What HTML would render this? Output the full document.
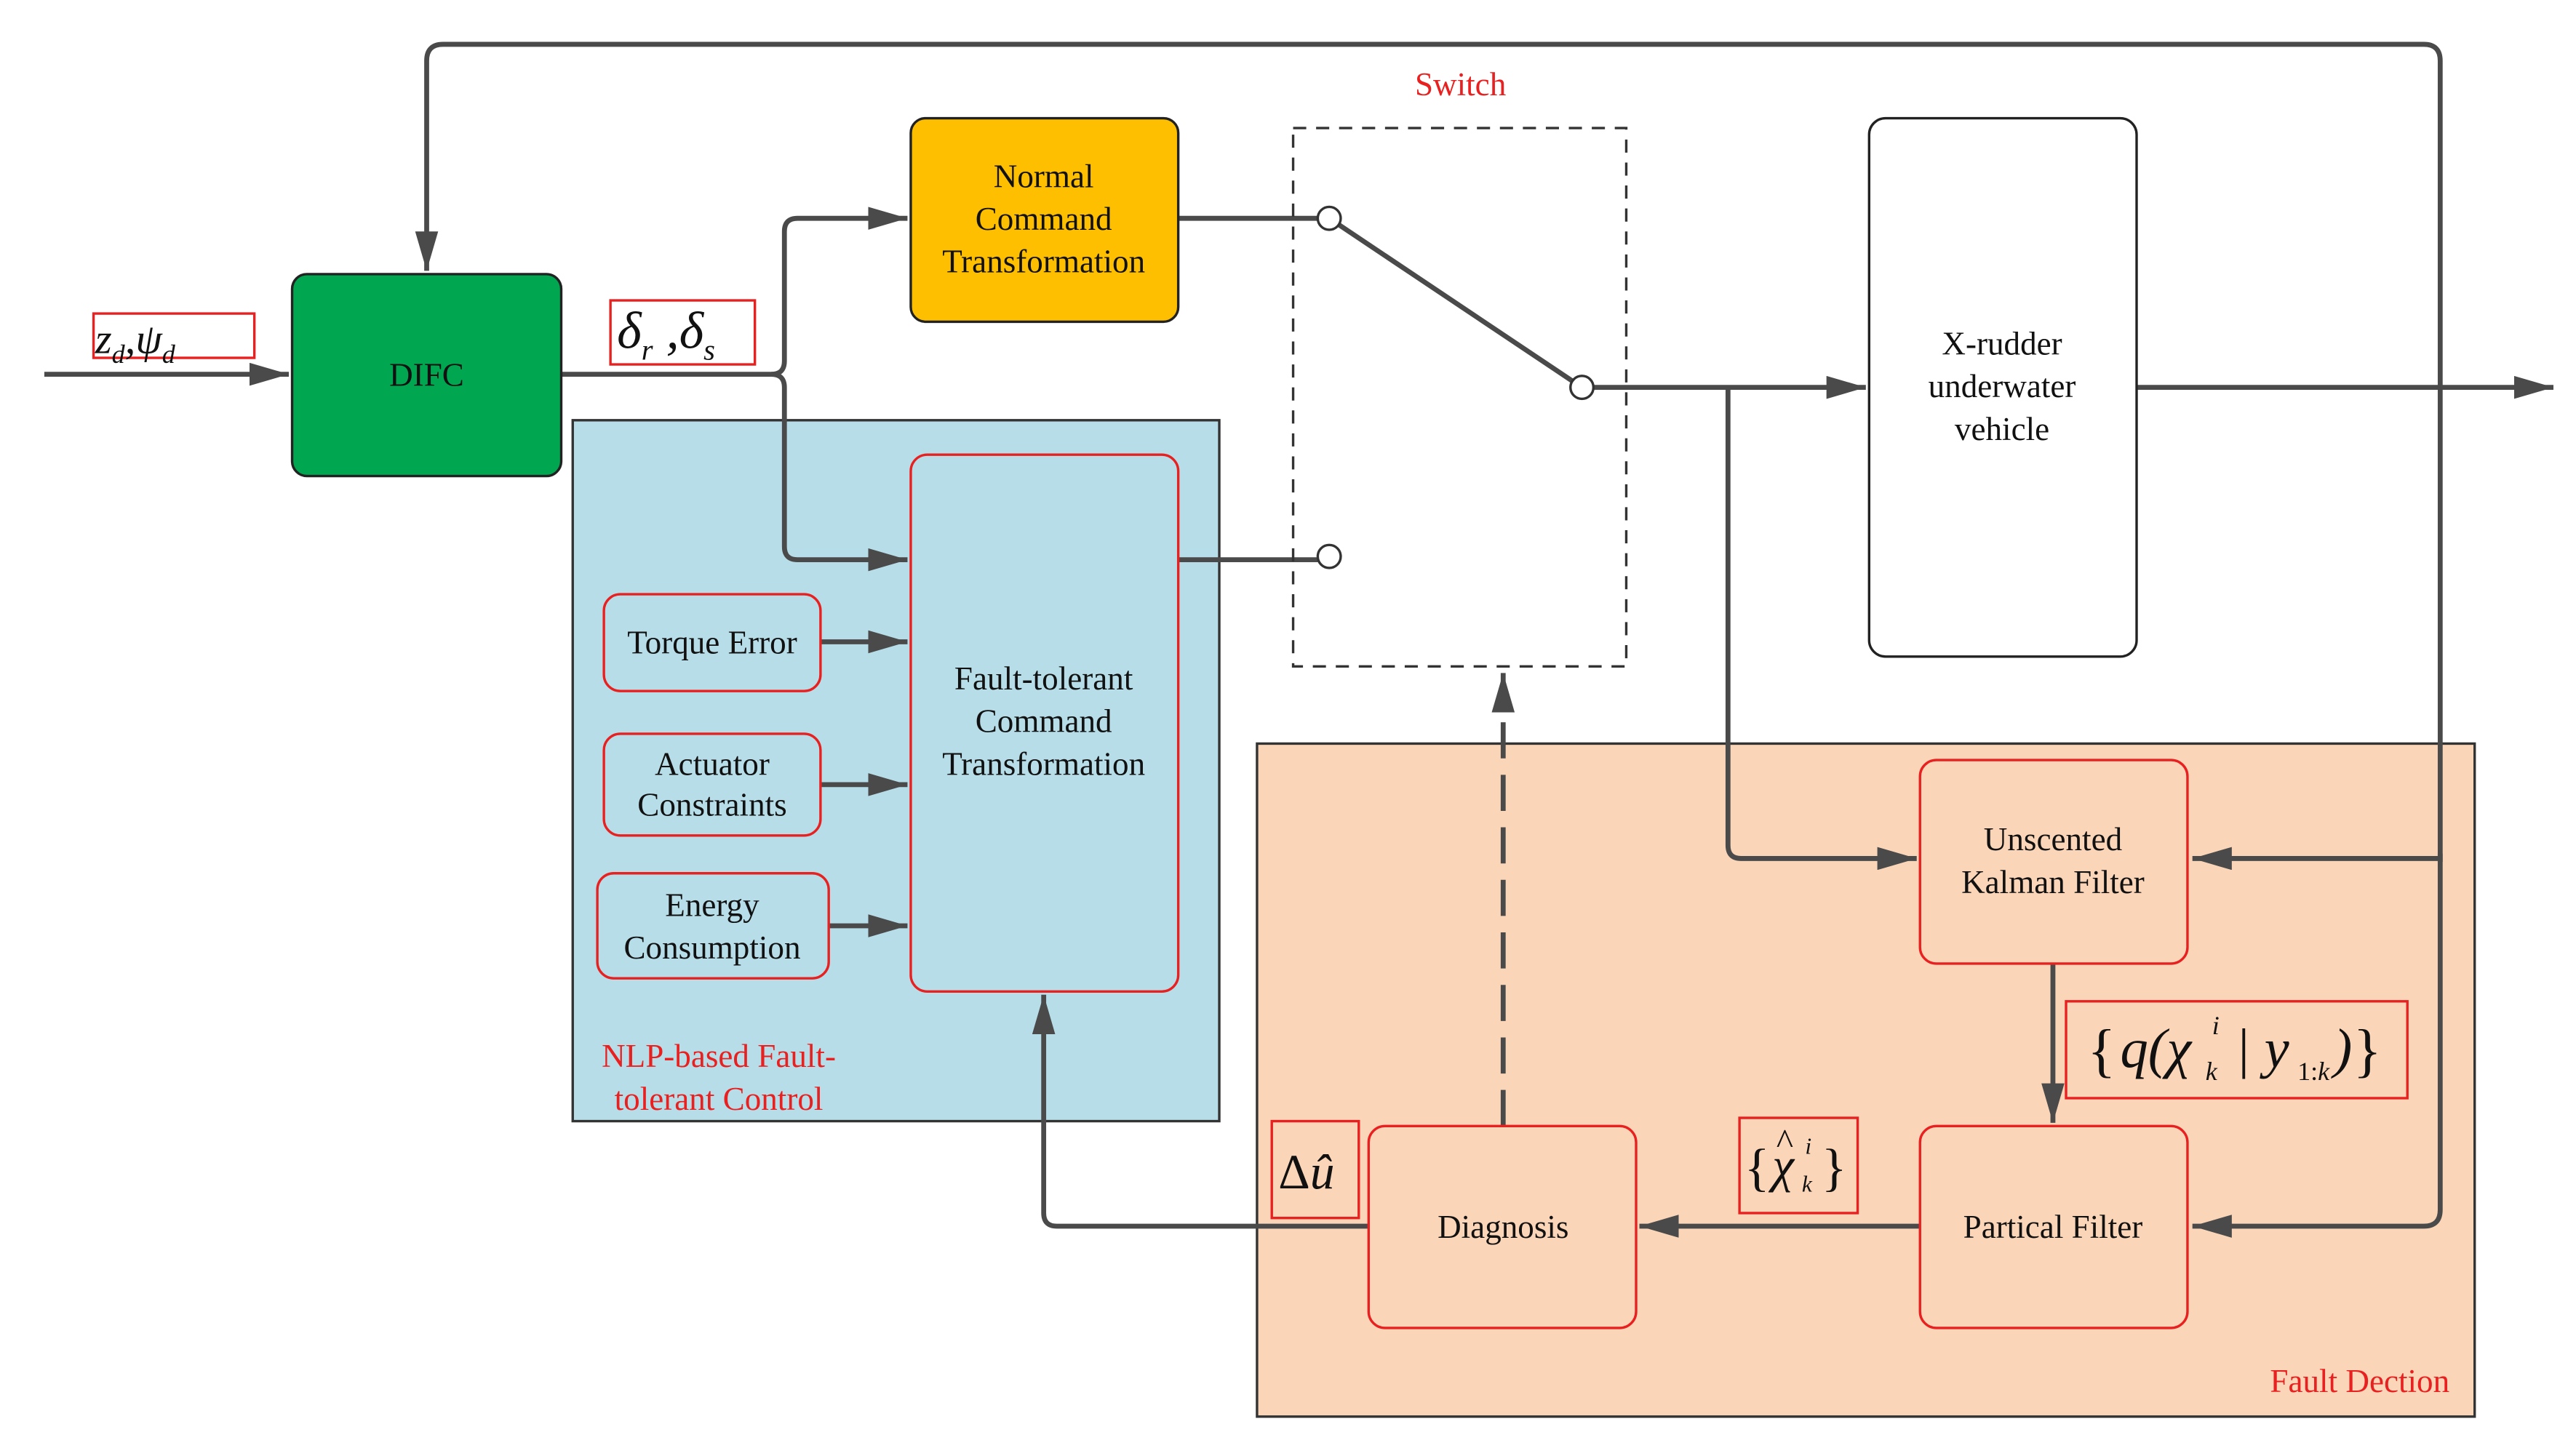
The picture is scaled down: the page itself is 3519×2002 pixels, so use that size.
<!DOCTYPE html>
<html><head><meta charset="utf-8"><style>html,body{margin:0;padding:0;background:#fff}svg{display:block}svg text{font-family:"Liberation Serif","DejaVu Serif",serif}</style></head>
<body>
<svg xmlns="http://www.w3.org/2000/svg" width="3519" height="2002" viewBox="0 0 1560 887" preserveAspectRatio="none">
<defs><marker id="b" viewBox="0 0 24 14" refX="24" refY="7" markerWidth="24" markerHeight="14" markerUnits="userSpaceOnUse" orient="auto"><path d="M0,0L24,7L0,14z" fill="#4a4a4a"/></marker></defs>
<rect x="349" y="256" width="394" height="427" fill="#B7DDE8" stroke="#333" stroke-width="1.5"/>
<rect x="766" y="453" width="742" height="410" fill="#FAD5B8" stroke="#333" stroke-width="1.5"/>
<g fill="none" stroke="#4a4a4a" stroke-width="3">
<path d="M1487,525 V37 Q1487,27 1477,27 H270 Q260,27 260,37 V165" marker-end="url(#b)"/>
<path d="M1487,520 V737 Q1487,747 1477,747 H1336" marker-end="url(#b)"/>
<path d="M1487,523 H1336" marker-end="url(#b)"/>
<path d="M27,228 H176" marker-end="url(#b)"/>
<path d="M342,228 H470 Q478,228 478,220 V141 Q478,133 486,133 H553" marker-end="url(#b)"/>
<path d="M470,228 Q478,228 478,236 V333 Q478,341 486,341 H553" marker-end="url(#b)"/>
<path d="M500,391 H553" marker-end="url(#b)"/>
<path d="M500,478 H553" marker-end="url(#b)"/>
<path d="M505,564 H553" marker-end="url(#b)"/>
<path d="M718,133 H803"/>
<path d="M816,137 L958,232"/>
<path d="M718,341 H803"/>
<path d="M971,236 H1137" marker-end="url(#b)"/>
<path d="M1053,236 V515 Q1053,523 1061,523 H1168" marker-end="url(#b)"/>
<path d="M1302,236 H1556" marker-end="url(#b)"/>
<path d="M1251,587 V684" marker-end="url(#b)"/>
<path d="M1170,747 H999" marker-end="url(#b)"/>
<path d="M834,747 H644 Q636,747 636,739 V606" marker-end="url(#b)"/>
<path d="M916,686 V410" stroke-dasharray="22,10" marker-end="url(#b)"/>
</g>
<rect x="788" y="78" width="203" height="328" fill="none" stroke="#333" stroke-width="1.5" stroke-dasharray="8,6"/>
<g fill="#fff" stroke="#333" stroke-width="1.5"><circle cx="810" cy="133" r="7"/><circle cx="964" cy="236" r="7"/><circle cx="810" cy="339" r="7"/></g>
<rect x="178" y="167" width="164" height="123" rx="9" fill="#00A650" stroke="#222" stroke-width="1.5"/>
<rect x="555" y="72" width="163" height="124" rx="9" fill="#FDBF00" stroke="#222" stroke-width="1.5"/>
<rect x="1139" y="72" width="163" height="328" rx="10" fill="#fff" stroke="#222" stroke-width="1.5"/>
<g fill="none" stroke="#e82020" stroke-width="1.5">
<rect x="555" y="277" width="163" height="327" rx="10"/>
<rect x="368" y="362" width="132" height="59" rx="10"/>
<rect x="368" y="447" width="132" height="62" rx="10"/>
<rect x="364" y="532" width="141" height="64" rx="10"/>
<rect x="1170" y="463" width="163" height="124" rx="10"/>
<rect x="1170" y="686" width="163" height="123" rx="10"/>
<rect x="834" y="686" width="163" height="123" rx="10"/>
<rect x="57" y="191" width="98" height="27"/>
<rect x="372" y="183" width="88" height="39"/>
<rect x="1259" y="610" width="208" height="59"/>
<rect x="1060" y="681" width="72" height="58"/>
<rect x="775" y="683" width="53" height="59"/>
</g>
<g font-size="20" fill="#111" text-anchor="middle">
<text x="260" y="235">DIFC</text>
<text x="636" y="114">Normal</text><text x="636" y="140">Command</text><text x="636" y="166">Transformation</text>
<text x="636" y="420">Fault-tolerant</text><text x="636" y="446">Command</text><text x="636" y="472">Transformation</text>
<text x="434" y="398">Torque Error</text>
<text x="434" y="472">Actuator</text><text x="434" y="497">Constraints</text>
<text x="434" y="558">Energy</text><text x="434" y="584">Consumption</text>
<text x="1220" y="216">X-rudder</text><text x="1220" y="242">underwater</text><text x="1220" y="268">vehicle</text>
<text x="1251" y="518">Unscented</text><text x="1251" y="544">Kalman Filter</text>
<text x="1251" y="754">Partical Filter</text>
<text x="916" y="754">Diagnosis</text>
</g>
<g font-size="20" fill="#e82020" text-anchor="middle">
<text x="890" y="58">Switch</text>
<text x="438" y="650">NLP-based Fault-</text><text x="438" y="676">tolerant Control</text>
<text x="1438" y="848">Fault Dection</text>
</g>
<g font-style="italic" fill="#111">
<text x="58" y="215" font-size="26">z<tspan font-size="16" dy="6">d</tspan><tspan dy="-6">,ψ</tspan><tspan font-size="16" dy="6">d</tspan></text>
<text x="376" y="212" font-size="32">δ<tspan font-size="18" dy="7">r</tspan><tspan dy="-7"> ,δ</tspan><tspan font-size="18" dy="7">s</tspan></text>
<text x="1272" y="652" font-size="36" font-style="normal">{</text>
<text x="1292" y="650" font-size="34">q(χ</text>
<text x="1348" y="630" font-size="16">i</text>
<text x="1344" y="658" font-size="16">k</text>
<text x="1362" y="650" font-size="34">| y</text>
<text x="1400" y="658" font-size="16" font-style="normal">1:<tspan font-style="italic">k</tspan></text>
<text x="1422" y="650" font-size="34">)</text>
<text x="1434" y="652" font-size="36" font-style="normal">}</text>
<text x="1063" y="722" font-size="32" font-style="normal">{</text>
<text x="1080" y="720" font-size="30">χ</text>
<text x="1082" y="703" font-size="22">^</text>
<text x="1100" y="703" font-size="14">i</text>
<text x="1098" y="726" font-size="14">k</text>
<text x="1110" y="722" font-size="32" font-style="normal">}</text>
<text x="779" y="724" font-size="30"><tspan font-style="normal">Δ</tspan>û</text>
</g>
</svg>
</body></html>
